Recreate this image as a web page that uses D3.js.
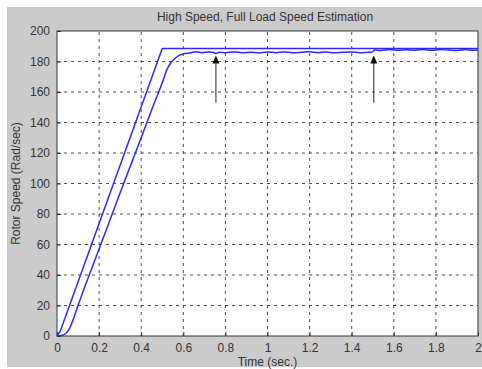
<!DOCTYPE html>
<html>
<head>
<meta charset="utf-8">
<script src="https://cdn.jsdelivr.net/npm/d3@7"></script>
<style>
  body { margin: 0; background: #fff; }
  text { font-family: "Liberation Sans", Arial, sans-serif; fill: #333; }
</style>
</head>
<body>
<div id="chart"></div>
<script>
// x and y ticks
var xTicks = [0, 0.2, 0.4, 0.6, 0.8, 1, 1.2, 1.4, 1.6, 1.8, 2];
var yTicks = [0, 20, 40, 60, 80, 100, 120, 140, 160, 180, 200];

// reference (actual) speed
var refTime  = [0, 0.015, 0.5, 2.0];
var refSpeed = [0, 3, 188.5, 188.5];

// estimated speed
var estTime  = [0, 0.02, 0.04, 0.06, 0.08, 0.1, 0.2, 0.3, 0.4, 0.46, 0.5, 0.52, 0.54, 0.56, 0.58, 0.6,
                0.63, 0.66, 0.69, 0.72, 0.745, 0.755, 0.77, 0.8, 0.84, 0.88, 0.92, 0.96, 1.0, 1.04, 1.08,
                1.12, 1.16, 1.2, 1.24, 1.28, 1.32, 1.36, 1.4, 1.44, 1.48, 1.495, 1.51, 1.54, 1.58, 1.62,
                1.66, 1.7, 1.74, 1.78, 1.82, 1.86, 1.9, 1.94, 1.98, 2.0];
var estSpeed = [0, 0.3, 1.5, 5, 12, 20, 57, 94, 130, 152, 166, 174, 179, 182, 184, 185,
                185.6, 186.4, 185.8, 186.3, 185.9, 185.2, 186.1, 185.8, 186.3, 185.7, 186.1, 185.6, 186.2, 185.8, 186.3,
                185.7, 186.0, 186.4, 185.8, 186.2, 185.7, 186.1, 186.3, 185.8, 186.1, 186.0, 187.6, 187.2, 187.8, 187.3,
                187.7, 187.4, 187.9, 187.3, 187.8, 187.5, 187.2, 187.8, 187.4, 187.6];

// arrows: time, tail speed, head speed
var arrowTime = [0.755, 1.505];
var arrowTail = [153, 153];
var arrowHead = [184, 184];

var W = 482, H = 369;
var svg = d3.select("#chart").append("svg").attr("width", W).attr("height", H);

// gray figure panel
svg.append("rect").attr("x", 7).attr("y", 7).attr("width", W - 7).attr("height", 360).attr("fill", "#cbcbcb");

var x = d3.scaleLinear().domain([0, 2]).range([57, 478]);
var y = d3.scaleLinear().domain([0, 200]).range([336, 31]);

svg.append("rect")
    .attr("x", x(0)).attr("y", y(200))
    .attr("width", x(2) - x(0)).attr("height", y(0) - y(200))
    .attr("fill", "#fff");

// grid
var grid = svg.append("g").attr("class", "grid");
grid.selectAll("line.gx")
  .data(xTicks.slice(1, -1))
  .enter().append("line")
    .attr("x1", function(d) { return x(d); }).attr("x2", function(d) { return x(d); })
    .attr("y1", y(0)).attr("y2", y(200))
    .attr("stroke", "#222").attr("stroke-width", 0.8).attr("stroke-dasharray", "3,4");
grid.selectAll("line.gy")
  .data(yTicks.slice(1, -1))
  .enter().append("line")
    .attr("y1", function(d) { return y(d); }).attr("y2", function(d) { return y(d); })
    .attr("x1", x(0)).attr("x2", x(2))
    .attr("stroke", "#222").attr("stroke-width", 0.8).attr("stroke-dasharray", "3,4");

// axes
var xAxis = svg.append("g")
    .attr("transform", "translate(0," + y(0) + ")")
    .call(d3.axisBottom(x).tickValues(xTicks).tickSizeInner(-4).tickSizeOuter(0).tickPadding(7)
      .tickFormat(function(d) { return d3.format("~g")(d); }));
var yAxis = svg.append("g")
    .attr("transform", "translate(" + x(0) + ",0)")
    .call(d3.axisLeft(y).tickValues(yTicks).tickSizeInner(-4).tickSizeOuter(0).tickPadding(7));

[xAxis, yAxis].forEach(function(a) {
  a.select(".domain").remove();
  a.selectAll("line").attr("stroke", "#333");
  a.selectAll("text").attr("font-size", 12).style("fill", "#333");
});

// plot box
svg.append("rect")
    .attr("x", x(0)).attr("y", y(200))
    .attr("width", x(2) - x(0)).attr("height", y(0) - y(200))
    .attr("fill", "none").attr("stroke", "#333").attr("stroke-width", 1);

// lines
var line = d3.line()
    .x(function(d) { return x(d[0]); })
    .y(function(d) { return y(d[1]); });

var refData = refTime.map(function(t, i) { return [t, refSpeed[i]]; });
var estData = estTime.map(function(t, i) { return [t, estSpeed[i]]; });

svg.append("path").datum(refData)
    .attr("d", line).attr("fill", "none").attr("stroke", "#2a2aff").attr("stroke-width", 1.5);
svg.append("path").datum(estData)
    .attr("d", line.curve(d3.curveMonotoneX)).attr("fill", "none").attr("stroke", "#2a2aff").attr("stroke-width", 1.5);

// arrows
var arrows = svg.append("g");
arrowTime.forEach(function(t, i) {
  arrows.append("line")
      .attr("x1", x(t)).attr("x2", x(t))
      .attr("y1", y(arrowTail[i])).attr("y2", y(arrowHead[i]) + 4)
      .attr("stroke", "#222").attr("stroke-width", 1);
  arrows.append("path")
      .attr("d", "M" + x(t) + "," + y(arrowHead[i]) + " l-3.5,8 l7,0 z")
      .attr("fill", "#111");
});

// labels
svg.append("text")
    .attr("x", 265).attr("y", 21)
    .attr("text-anchor", "middle").attr("font-size", 12)
    .text("High Speed, Full Load Speed Estimation");
svg.append("text")
    .attr("x", (x(0) + x(2)) / 2).attr("y", 366)
    .attr("text-anchor", "middle").attr("font-size", 12)
    .text("Time (sec.)");
svg.append("text")
    .attr("transform", "translate(20," + (y(0) + y(200)) / 2 + ") rotate(-90)")
    .attr("text-anchor", "middle").attr("font-size", 12)
    .text("Rotor Speed (Rad/sec)");
</script>
</body>
</html>
